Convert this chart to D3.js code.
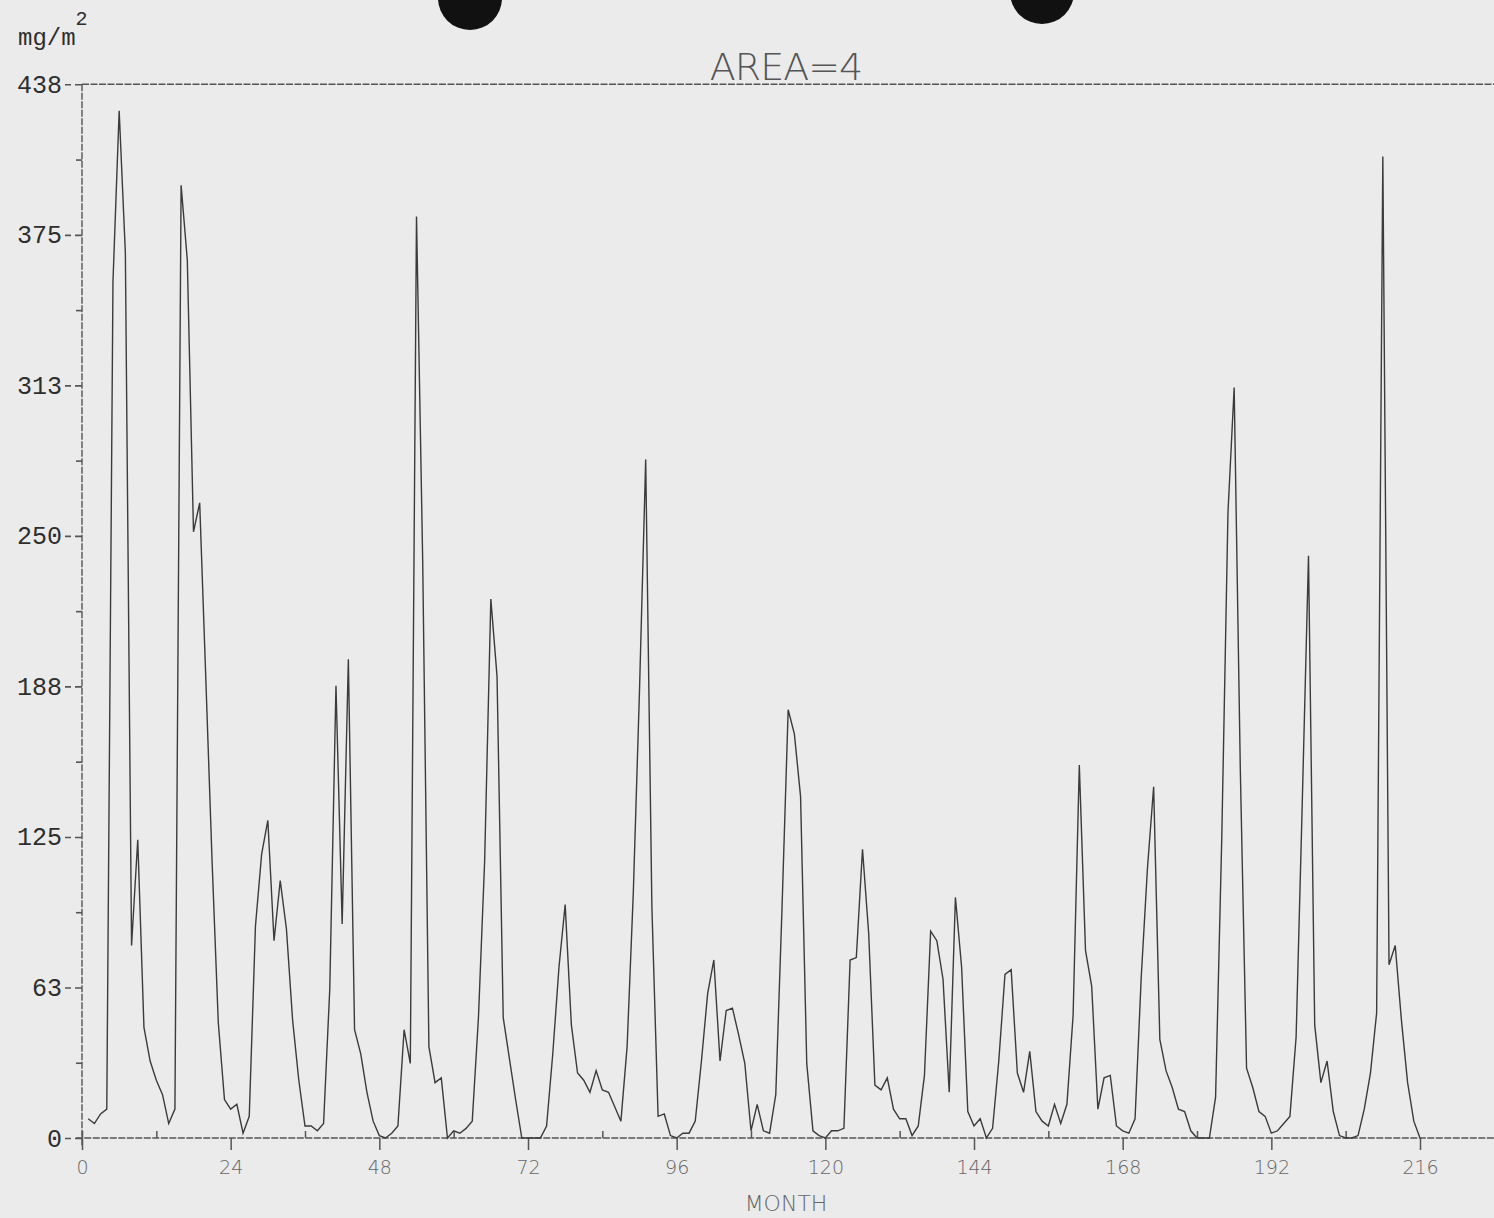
<!DOCTYPE html>
<html>
<head>
<meta charset="utf-8">
<script src="https://cdn.jsdelivr.net/npm/d3@7"></script>
<style>
  body { margin: 0; background: #ebebeb; overflow: hidden; }
  svg { display: block; }
</style>
</head>
<body>
<script>
const width = 1494;
const height = 1218;

// monthly values, month 1 .. 216 (mg/m^2)
const values = [
    8, 6, 10, 12, 356, 427, 368, 80, 124, 46,
    32, 24, 18, 6, 12, 396, 365, 252, 264, 190,
    115, 48, 16, 12, 14, 2, 9, 88, 118, 132,
    82, 107, 87, 49, 24, 5, 5, 3, 6, 62,
    188, 89, 199, 45, 35, 19, 7, 1, 0, 2,
    5, 45, 31, 383, 240, 38, 23, 25, 0, 3,
    2, 4, 7, 50, 115, 224, 192, 50, 33, 16,
    0, 0, 0, 0, 5, 35, 71, 97, 47, 27,
    24, 19, 28, 20, 19, 13, 7, 38, 102, 186,
    282, 96, 9, 10, 1, 0, 2, 2, 7, 32,
    60, 74, 32, 53, 54, 43, 31, 3, 14, 3,
    2, 18, 95, 178, 168, 142, 31, 3, 1, 0,
    3, 3, 4, 74, 75, 120, 85, 22, 20, 25,
    12, 8, 8, 1, 5, 26, 86, 82, 66, 19,
    100, 71, 11, 5, 8, 0, 4, 32, 68, 70,
    27, 19, 36, 11, 7, 5, 14, 6, 14, 51,
    155, 78, 63, 12, 25, 26, 5, 3, 2, 8,
    67, 112, 146, 41, 28, 21, 12, 11, 3, 0,
    0, 0, 17, 125, 260, 312, 152, 29, 21, 11,
    9, 2, 3, 6, 9, 42, 140, 242, 47, 23,
    32, 11, 1, 0, 0, 1, 12, 27, 52, 408,
    72, 80, 49, 23, 7, 0
];

const yMax = 438;
const yTickLabels = ["0", "63", "125", "188", "250", "313", "375", "438"];
const xTicks = [0, 24, 48, 72, 96, 120, 144, 168, 192, 216];
const xTickLabels = ["0", "24", "48", "72", "96", "120", "144", "168", "192", "216"];
const xMinorTicks = [0, 12, 36, 60, 84, 108, 132, 156, 180, 204];
const title = "AREA=4";
const xTitle = "MONTH";

const ink = "#3b3b3b";
const axisInk = "#555";

const svg = d3.select("body").append("svg")
    .attr("width", width)
    .attr("height", height);

const x = d3.scaleLinear().domain([0, 216]).range([82, 1420]);
const y = d3.scaleLinear().domain([0, yMax]).range([1138, 84.3]);

// y ticks are evenly spaced over 0..438, labels rounded
const yStep = yMax / (yTickLabels.length - 1);
const yMajor = yTickLabels.map((d, i) => i * yStep);
const yMinor = yMajor.slice(0, -1).map(v => v + yStep / 2);

// scanner punch holes at the top edge
svg.append("circle").attr("cx", 470).attr("cy", -2).attr("r", 32).attr("fill", "#111");
svg.append("circle").attr("cx", 1042).attr("cy", -8).attr("r", 32).attr("fill", "#111");

// frame lines
const xEnd = x.invert(width);
svg.append("line")
    .attr("x1", x(0)).attr("x2", x(xEnd))
    .attr("y1", y(yMax)).attr("y2", y(yMax))
    .attr("stroke", axisInk).attr("stroke-width", 1.4)
    .attr("stroke-dasharray", "7,1.5");
svg.append("line")
    .attr("x1", x(-1)).attr("x2", x(xEnd))
    .attr("y1", y(0)).attr("y2", y(0))
    .attr("stroke", axisInk).attr("stroke-width", 1.4)
    .attr("stroke-dasharray", "7,1.5");
svg.append("line")
    .attr("x1", x(0)).attr("x2", x(0))
    .attr("y1", y(yMax)).attr("y2", y(0) + 8)
    .attr("stroke", axisInk).attr("stroke-width", 1.4)
    .attr("stroke-dasharray", "7,1.5");

// y axis, major ticks with labels
const yAxis = svg.append("g")
    .attr("transform", `translate(${x(0)},0)`)
    .call(d3.axisLeft(y).tickValues(yMajor)
        .tickFormat((d, i) => yTickLabels[i])
        .tickSize(17).tickPadding(3).tickSizeOuter(0));
yAxis.select(".domain").remove();
yAxis.selectAll(".tick line")
    .attr("stroke", axisInk).attr("stroke-width", 1.6)
    .attr("stroke-dasharray", "7,4,6,30");
yAxis.selectAll(".tick text")
    .attr("fill", "#2e2e2e")
    .style("font-family", "'Liberation Mono', 'DejaVu Sans Mono', monospace")
    .style("font-size", "25px");

// y axis, minor ticks
const yMinorAxis = svg.append("g")
    .attr("transform", `translate(${x(0)},0)`)
    .call(d3.axisLeft(y).tickValues(yMinor).tickFormat("").tickSize(6).tickSizeOuter(0));
yMinorAxis.select(".domain").remove();
yMinorAxis.selectAll(".tick line").attr("stroke", axisInk).attr("stroke-width", 1.6);

// x axis, major ticks downward with labels
const xAxis = svg.append("g")
    .attr("transform", `translate(0,${y(0)})`)
    .call(d3.axisBottom(x).tickValues(xTicks)
        .tickFormat((d, i) => xTickLabels[i])
        .tickSize(12).tickPadding(11).tickSizeOuter(0));
xAxis.select(".domain").remove();
xAxis.selectAll(".tick line").attr("stroke", axisInk).attr("stroke-width", 1.5);
xAxis.selectAll(".tick text")
    .attr("fill", "#666")
    .style("font-family", "'DejaVu Sans', sans-serif")
    .style("font-weight", "200")
    .style("font-size", "19px");

// x axis, minor ticks upward
const xMinorAxis = svg.append("g")
    .attr("transform", `translate(0,${y(0)})`)
    .call(d3.axisTop(x).tickValues(xMinorTicks).tickFormat("").tickSize(7).tickSizeOuter(0));
xMinorAxis.select(".domain").remove();
xMinorAxis.selectAll(".tick line").attr("stroke", axisInk).attr("stroke-width", 1.5);

// the series
const line = d3.line()
    .x((d, i) => x(i + 1))
    .y(d => y(d));

svg.append("path")
    .datum(values)
    .attr("d", line)
    .attr("fill", "none")
    .attr("stroke", ink)
    .attr("stroke-width", 1.4)
    .attr("stroke-linejoin", "miter");

// titles
svg.append("text")
    .attr("x", 786).attr("y", 80)
    .attr("text-anchor", "middle")
    .attr("fill", "#555")
    .style("font-family", "'DejaVu Sans', sans-serif")
    .style("font-weight", "200")
    .style("font-size", "38px")
    .style("letter-spacing", "-1px")
    .text(title);

svg.append("text")
    .attr("x", 786).attr("y", 1211)
    .attr("text-anchor", "middle")
    .attr("fill", "#666")
    .style("font-family", "'DejaVu Sans', sans-serif")
    .style("font-weight", "200")
    .style("font-size", "22px")
    .text(xTitle);

const unit = svg.append("text")
    .attr("x", 18).attr("y", 45)
    .attr("fill", "#2e2e2e")
    .style("font-family", "'Liberation Mono', 'DejaVu Sans Mono', monospace")
    .style("font-size", "24px")
    .text("mg/m");
unit.append("tspan")
    .attr("dy", -20)
    .style("font-size", "20px")
    .text("2");
</script>
</body>
</html>
